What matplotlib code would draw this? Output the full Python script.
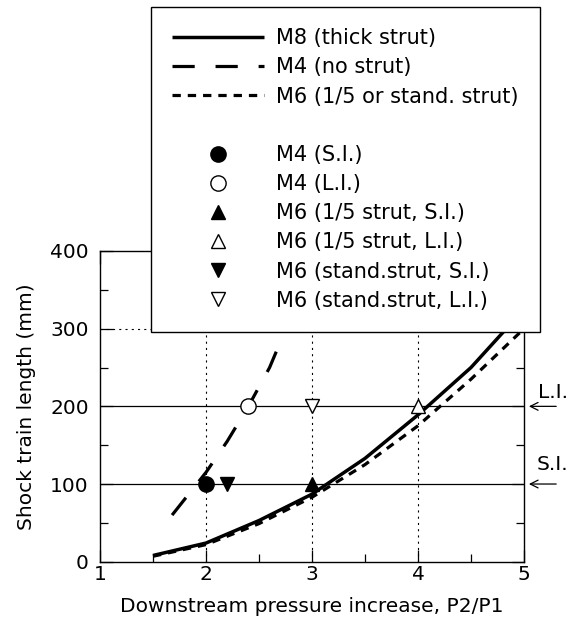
import matplotlib
matplotlib.use("Agg")
import matplotlib.pyplot as plt
from matplotlib.lines import Line2D
from matplotlib.ticker import MultipleLocator

plt.rcParams['font.family'] = ['DejaVu Sans']
plt.rcParams['lines.scale_dashes'] = False

# ---- data ----
m8_x = [1.5, 2.0, 2.5, 3.0, 3.5, 4.0, 4.5, 5.0]
m8_y = [8, 24, 53, 87, 133, 189, 250, 325]
m6_x = [1.5, 2.0, 2.5, 3.0, 3.5, 4.0, 4.5, 5.0]
m6_y = [7, 22, 49, 83, 125, 175, 235, 300]
m4_x = [1.68, 2.0, 2.2, 2.4, 2.6, 2.8, 2.9]
m4_y = [60, 115, 155, 200, 250, 315, 350]

pt_labels = ["M4 (S.I.)", "M4 (L.I.)", "M6 (1/5 strut, S.I.)", "M6 (1/5 strut, L.I.)",
             "M6 (stand.strut, S.I.)", "M6 (stand.strut, L.I.)"]
pt_x = [2.0, 2.4, 3.0, 4.0, 2.2, 3.0]
pt_y = [100, 200, 100, 200, 100, 200]
pt_marker = ['o', 'o', '^', '^', 'v', 'v']
pt_filled = [True, False, True, False, True, False]
pt_size = [11, 11, 10, 10, 10, 10]

line_labels = ["M8 (thick strut)", "M4 (no strut)", "M6 (1/5 or stand. strut)"]
level_y = [200, 100]
level_labels = ["L.I.", "S.I."]

FS = 14.5
LFS = 15
W, H = 583, 619
fig = plt.figure(figsize=(W / 100, H / 100), dpi=100)
ax = fig.add_axes([100 / W, 1 - 561.7 / H, 424 / W, 310.7 / H])

ax.set_xlim(1, 5)
ax.set_ylim(0, 400)

# grid lines
for gx in [2, 3, 4]:
    ax.axvline(gx, color='black', lw=0.8, ls=(0, (1.5, 3)), zorder=1)
ax.axhline(300, color='black', lw=0.8, ls=(0, (1.5, 3)), zorder=1)
for ly in level_y:
    ax.axhline(ly, color='black', lw=0.9, zorder=1)

h8, = ax.plot(m8_x, m8_y, color='black', lw=2.5, solid_capstyle='butt', zorder=3,
              label=line_labels[0])
h4, = ax.plot(m4_x, m4_y, color='black', lw=2.3, ls=(0, (16, 15)), zorder=3,
              label=line_labels[1])
h6, = ax.plot(m6_x, m6_y, color='black', lw=2.3, ls=(0, (6, 5)), zorder=3,
              label=line_labels[2])

pt_handles = []
for x, y, m, f, s, lab in zip(pt_x, pt_y, pt_marker, pt_filled, pt_size, pt_labels):
    h, = ax.plot([x], [y], linestyle='none', marker=m, markersize=s,
                 markerfacecolor='black' if f else 'white', markeredgecolor='black',
                 markeredgewidth=1.0, zorder=4, label=lab)
    pt_handles.append(h)

# arrows and level labels outside the axes
for ly, lab, ty in zip(level_y, level_labels, [218, 125]):
    ax.annotate('', xy=(5.02, ly), xytext=(5.33, ly), xycoords='data',
                arrowprops=dict(arrowstyle='->', color='black', lw=0.9,
                                mutation_scale=14), annotation_clip=False)
    ax.text(5.27, ty, lab, fontsize=FS, ha='center', va='center', clip_on=False)

# ticks
ax.xaxis.set_major_locator(MultipleLocator(1))
ax.xaxis.set_minor_locator(MultipleLocator(0.5))
ax.yaxis.set_major_locator(MultipleLocator(100))
ax.yaxis.set_minor_locator(MultipleLocator(50))
ax.tick_params(which='both', direction='in', top=True, right=True, labelsize=FS,
               width=0.9, colors='black')
ax.tick_params(which='major', length=9)
ax.tick_params(which='minor', length=6)
ax.tick_params(axis='x', which='major', pad=2.5)
ax.tick_params(axis='y', which='major', pad=8)
for sp in ax.spines.values():
    sp.set_linewidth(1.0)

ax.set_xlabel("Downstream pressure increase, P2/P1", fontsize=FS, labelpad=9)
ax.set_ylabel("Shock train length (mm)", fontsize=FS, labelpad=10)

blank = Line2D([], [], linestyle='none', label=' ')
handles = [h8, h4, h6, blank] + pt_handles
leg = ax.legend(handles=handles, loc='upper left',
                bbox_to_anchor=(151 / W, 1 - 7 / H), bbox_transform=fig.transFigure,
                borderaxespad=0, fontsize=LFS, handlelength=4.42, handletextpad=0.58,
                labelspacing=0.44, borderpad=1.02, numpoints=1, fancybox=False,
                framealpha=1, edgecolor='black', facecolor='white')
leg.get_frame().set_linewidth(1.0)
leg.set_zorder(10)

fig.savefig("out.png", dpi=100)
